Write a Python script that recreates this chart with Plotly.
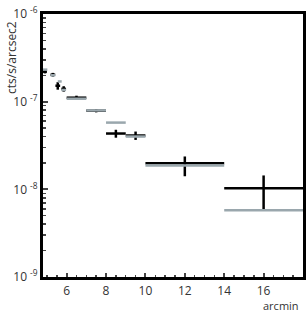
import plotly.graph_objects as go

# black series (with errors)
bx = [4.9, 5.3, 5.55, 5.85, 6.5, 7.5, 8.5, 9.5, 12.0, 16.0]
bxe = [0.1, 0.12, 0.12, 0.12, 0.5, 0.5, 0.5, 0.5, 2.0, 2.0]
by = [2.2e-7, 2.03e-7, 1.52e-7, 1.40e-7, 1.11e-7, 7.9e-8, 4.33e-8, 4.11e-8, 1.98e-8, 1.03e-8]
bye_hi = [0.1e-7, 0.1e-7, 0.15e-7, 0.1e-7, 0.06e-7, 0.35e-8, 0.45e-8, 0.45e-8, 0.39e-8, 0.41e-8]
bye_lo = [0.1e-7, 0.1e-7, 0.15e-7, 0.1e-7, 0.06e-7, 0.35e-8, 0.45e-8, 0.45e-8, 0.57e-8, 0.45e-8]

# grey series
gx = [4.9, 5.3, 5.65, 5.85, 6.5, 7.5, 8.5, 9.5, 12.0, 16.0]
gxe = [0.12, 0.12, 0.1, 0.12, 0.5, 0.5, 0.5, 0.5, 2.0, 2.0]
gy = [2.32e-7, 2.0e-7, 1.7e-7, 1.36e-7, 1.08e-7, 7.95e-8, 5.77e-8, 4.0e-8, 1.87e-8, 5.77e-9]

yticks = [1e-9, 1e-8, 1e-7, 1e-6]
ytext = ["10 <sup>-9</sup>", "10 <sup>-8</sup>", "10 <sup>-7</sup>", "10 <sup>-6</sup>"]
yminor = [m * 10 ** e for e in (-9, -8, -7) for m in range(2, 10)]
xticks = [6, 8, 10, 12, 14, 16]

TXT = "#333333"

fig = go.Figure()
fig.add_trace(go.Scatter(
    x=bx, y=by, mode="markers", marker=dict(size=1, color="black", opacity=0),
    error_x=dict(type="data", array=bxe, color="black", thickness=2.5, width=0),
    error_y=dict(type="data", symmetric=False, array=bye_hi, arrayminus=bye_lo,
                 color="black", thickness=2.5, width=0),
    showlegend=False))
fig.add_trace(go.Scatter(
    x=gx, y=gy, mode="markers", marker=dict(size=1, color="#9aa7ad", opacity=0),
    error_x=dict(type="data", array=gxe, color="#9aa7ad", thickness=2.5, width=0),
    showlegend=False))

fig.update_layout(
    width=308, height=314,
    margin=dict(l=43, r=2, t=14, b=37),
    paper_bgcolor="white", plot_bgcolor="white",
    font=dict(family="Open Sans", size=12, color=TXT),
    xaxis=dict(range=[4.8, 18], tickvals=xticks, ticks="inside", ticklen=4, tickwidth=2,
               tickfont=dict(size=12, color=TXT), ticklabelstandoff=1,
               showline=True, linewidth=3, linecolor="black", mirror=True,
               showgrid=False, zeroline=False,
               minor=dict(ticks="inside", ticklen=2, tickwidth=1.5, dtick=0.5, showgrid=False)),
    yaxis=dict(type="log", range=[-9, -6], tickvals=yticks, ticktext=ytext,
               tickfont=dict(size=12, color=TXT),
               ticks="inside", ticklen=5, tickwidth=2,
               showline=True, linewidth=3, linecolor="black", mirror=True,
               showgrid=False, zeroline=False,
               minor=dict(ticks="inside", ticklen=3, tickwidth=1.5, tickmode="array",
                          tickvals=yminor, showgrid=False)),
    annotations=[
        dict(text="cts/s/arcsec2", textangle=-90, x=0, xref="paper", xanchor="center",
             xshift=-31, y=0.833, yref="paper", yanchor="middle", showarrow=False,
             font=dict(size=12, color=TXT)),
        dict(text="arcmin", x=1, xref="paper", xanchor="right", xshift=-2, y=0, yref="paper",
             yanchor="middle", yshift=-28, showarrow=False, font=dict(size=11, color=TXT)),
    ],
)
fig.write_html("out.html", config={"displayModeBar": False, "staticPlot": True},
               post_script="document.body.style.margin='0';document.body.style.padding='0';")
